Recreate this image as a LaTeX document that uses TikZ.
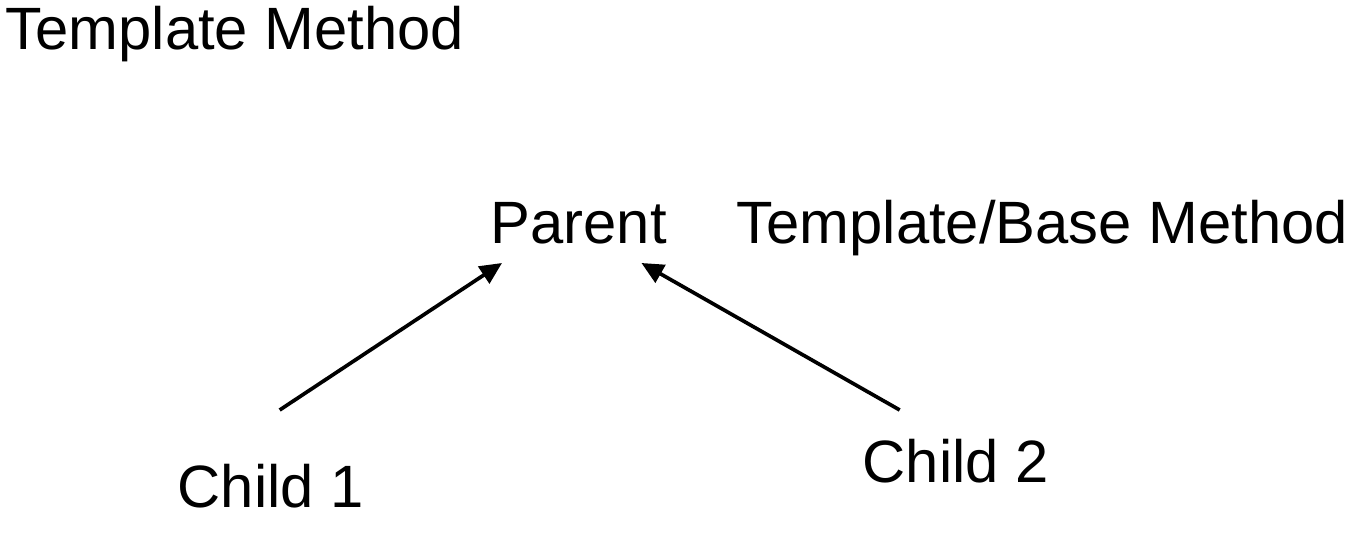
\documentclass[tikz,border=0pt]{standalone}
\usepackage{fontspec}
\setmainfont{Liberation Sans}
\usepackage{tikz}
\usetikzlibrary{arrows.meta}
\usetikzlibrary{calc}

\begin{document}
\begin{tikzpicture}[word/.style={anchor=base west,inner sep=0pt,font=\fontsize{17pt}{19pt}\selectfont},
  link/.style={line width=1.05pt,-{Triangle[length=0.22cm,width=0.2cm]}}]
\useasboundingbox[fill=white] (0,0) rectangle (13.66,-5.38);
\node[word] (title) at (0.05,-0.50) {Template Method};
\node[word] (parent) at (4.90,-2.44) {Parent};
\node[word] (base) at (7.36,-2.44) {Template/Base Method};
\node[word] (child1) at (1.77,-5.08) {Child 1};
\node[word] (child2) at (8.62,-4.83) {Child 2};
\draw[link] ($(child1.north)+(0.09,0.54)$) -- ($(parent.base west)+(0.12,-0.19)$);
\draw[link] ($(child2.north)+(-0.56,0.29)$) -- ($(parent.base east)+(-0.26,-0.19)$);
\end{tikzpicture}
\end{document}
